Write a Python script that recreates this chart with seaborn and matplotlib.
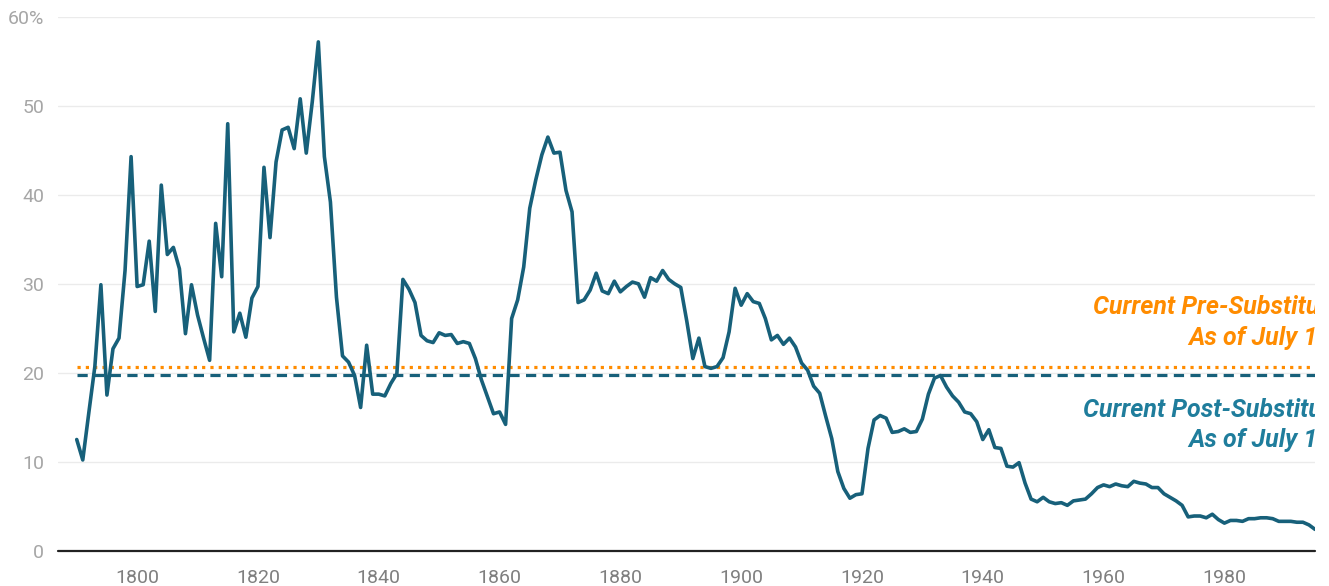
import matplotlib
matplotlib.use("Agg")
import matplotlib.pyplot as plt
import seaborn as sns
import pandas as pd
import numpy as np

# ---- data ----
years = list(range(1790, 1996))
tariff_rate = [
    12.5, 10.2, 15.5, 20.7, 29.9, 17.5, 22.7, 23.9, 31.5, 44.3,
    29.7, 29.9, 34.8, 26.9, 41.1, 33.3, 34.1, 31.7, 24.4, 29.9,
    26.5, 23.9, 21.4, 36.8, 30.8, 48.0, 24.6, 26.7, 24.0, 28.4,
    29.7, 43.1, 35.2, 43.7, 47.3, 47.6, 45.2, 50.8, 44.7, 50.5,
    57.2, 44.3, 39.2, 28.5, 21.9, 21.2, 19.7, 16.1, 23.1, 17.6,
    17.6, 17.4, 18.8, 19.9, 30.5, 29.4, 27.9, 24.2, 23.6, 23.4,
    24.5, 24.2, 24.3, 23.3, 23.5, 23.3, 21.6, 19.2, 17.3, 15.4,
    15.6, 14.2, 26.1, 28.2, 31.9, 38.5, 41.7, 44.5, 46.5, 44.7,
    44.8, 40.5, 38.1, 27.9, 28.2, 29.3, 31.2, 29.2, 28.9, 30.3,
    29.1, 29.7, 30.2, 30.0, 28.5, 30.7, 30.3, 31.5, 30.5, 30.0,
    29.6, 25.8, 21.6, 23.9, 20.7, 20.5, 20.7, 21.7, 24.6, 29.5,
    27.6, 28.9, 28.0, 27.8, 26.1, 23.7, 24.2, 23.2, 23.9, 22.9,
    21.1, 20.3, 18.5, 17.7, 15.1, 12.6, 8.9, 7.0, 5.9, 6.3,
    6.4, 11.5, 14.7, 15.2, 14.9, 13.3, 13.4, 13.7, 13.3, 13.4,
    14.8, 17.6, 19.4, 19.7, 18.4, 17.4, 16.7, 15.6, 15.4, 14.5,
    12.5, 13.6, 11.6, 11.5, 9.5, 9.4, 9.9, 7.6, 5.8, 5.5,
    6.0, 5.5, 5.3, 5.4, 5.1, 5.6, 5.7, 5.8, 6.4, 7.1,
    7.4, 7.2, 7.5, 7.3, 7.2, 7.8, 7.6, 7.5, 7.1, 7.1,
    6.4, 6.0, 5.6, 5.1, 3.8, 3.9, 3.9, 3.7, 4.1, 3.5,
    3.1, 3.4, 3.4, 3.3, 3.6, 3.6, 3.7, 3.7, 3.6, 3.3,
    3.3, 3.3, 3.2, 3.2, 2.9, 2.4,
]
pre_substitution_rate = 20.6
post_substitution_rate = 19.7
pre_label = ["Current Pre-Substitution Tariff Rate", "As of July 1, 2025"]
post_label = ["Current Post-Substitution Tariff Rate", "As of July 1, 2025"]
x_ticks = [1800, 1820, 1840, 1860, 1880, 1900, 1920, 1940, 1960, 1980]
y_ticks = [0, 10, 20, 30, 40, 50, 60]
y_tick_labels = ["0", "10", "20", "30", "40", "50", "60%"]

LINE = "#17607a"
ORANGE = "#ff8c00"
POST_TXT = "#1f7d9c"

sns.set_theme(style="white")
plt.rcParams["font.family"] = ["Roboto", "DejaVu Sans"]

df = pd.DataFrame({"year": years, "rate": tariff_rate})

fig = plt.figure(figsize=(13.29, 5.86), dpi=100)
ax = fig.add_axes([58 / 1329, 1 - 550.7 / 586, (1315 - 58) / 1329, (550.7 - 17) / 586])

x_left, x_right = 1786.9, 1995.0
ax.set_xlim(x_left, x_right)
ax.set_ylim(0, 60)

# grid
for yv in y_ticks[1:]:
    ax.axhline(yv, color="#ebebeb", lw=1.0, zorder=0)
ax.axhline(0, color="#222222", lw=1.6, zorder=1, clip_on=False)

# reference lines
ax.hlines(pre_substitution_rate, years[0], x_right, colors=ORANGE, lw=2.3,
          linestyles=(0, (1, 1.6)), zorder=2)
ax.hlines(post_substitution_rate, years[0], x_right, colors=LINE, lw=2.3,
          linestyles=(0, (3.2, 2.0)), zorder=2)

sns.lineplot(data=df, x="year", y="rate", ax=ax, color=LINE, lw=2.6, zorder=3)

# annotations (clipped at the right edge like the original)
fs = 18
ax.text(1958.2, 27.4, pre_label[0], color=ORANGE, fontsize=fs, fontweight="bold",
        fontstyle="italic", ha="left", va="center", clip_on=True)
ax.text(1974.1, 23.9, pre_label[1], color=ORANGE, fontsize=fs, fontweight="bold",
        fontstyle="italic", ha="left", va="center", clip_on=True)
ax.text(1956.6, 15.8, post_label[0], color=POST_TXT, fontsize=fs, fontweight="bold",
        fontstyle="italic", ha="left", va="center", clip_on=True)
ax.text(1974.0, 12.4, post_label[1], color=POST_TXT, fontsize=fs, fontweight="bold",
        fontstyle="italic", ha="left", va="center", clip_on=True)

ax.set_xticks(x_ticks)
ax.set_xticklabels([str(t) for t in x_ticks])
ax.set_yticks(y_ticks)
ax.set_yticklabels(y_tick_labels)
ax.tick_params(axis="x", length=0, pad=13, labelsize=14, labelcolor="#7f7f7f")
ax.tick_params(axis="y", length=0, pad=10, labelsize=14, labelcolor="#a6a6a6")
for s in ax.spines.values():
    s.set_visible(False)
ax.set_xlabel("")
ax.set_ylabel("")
ax.grid(False)

fig.savefig("out.png", dpi=100)
